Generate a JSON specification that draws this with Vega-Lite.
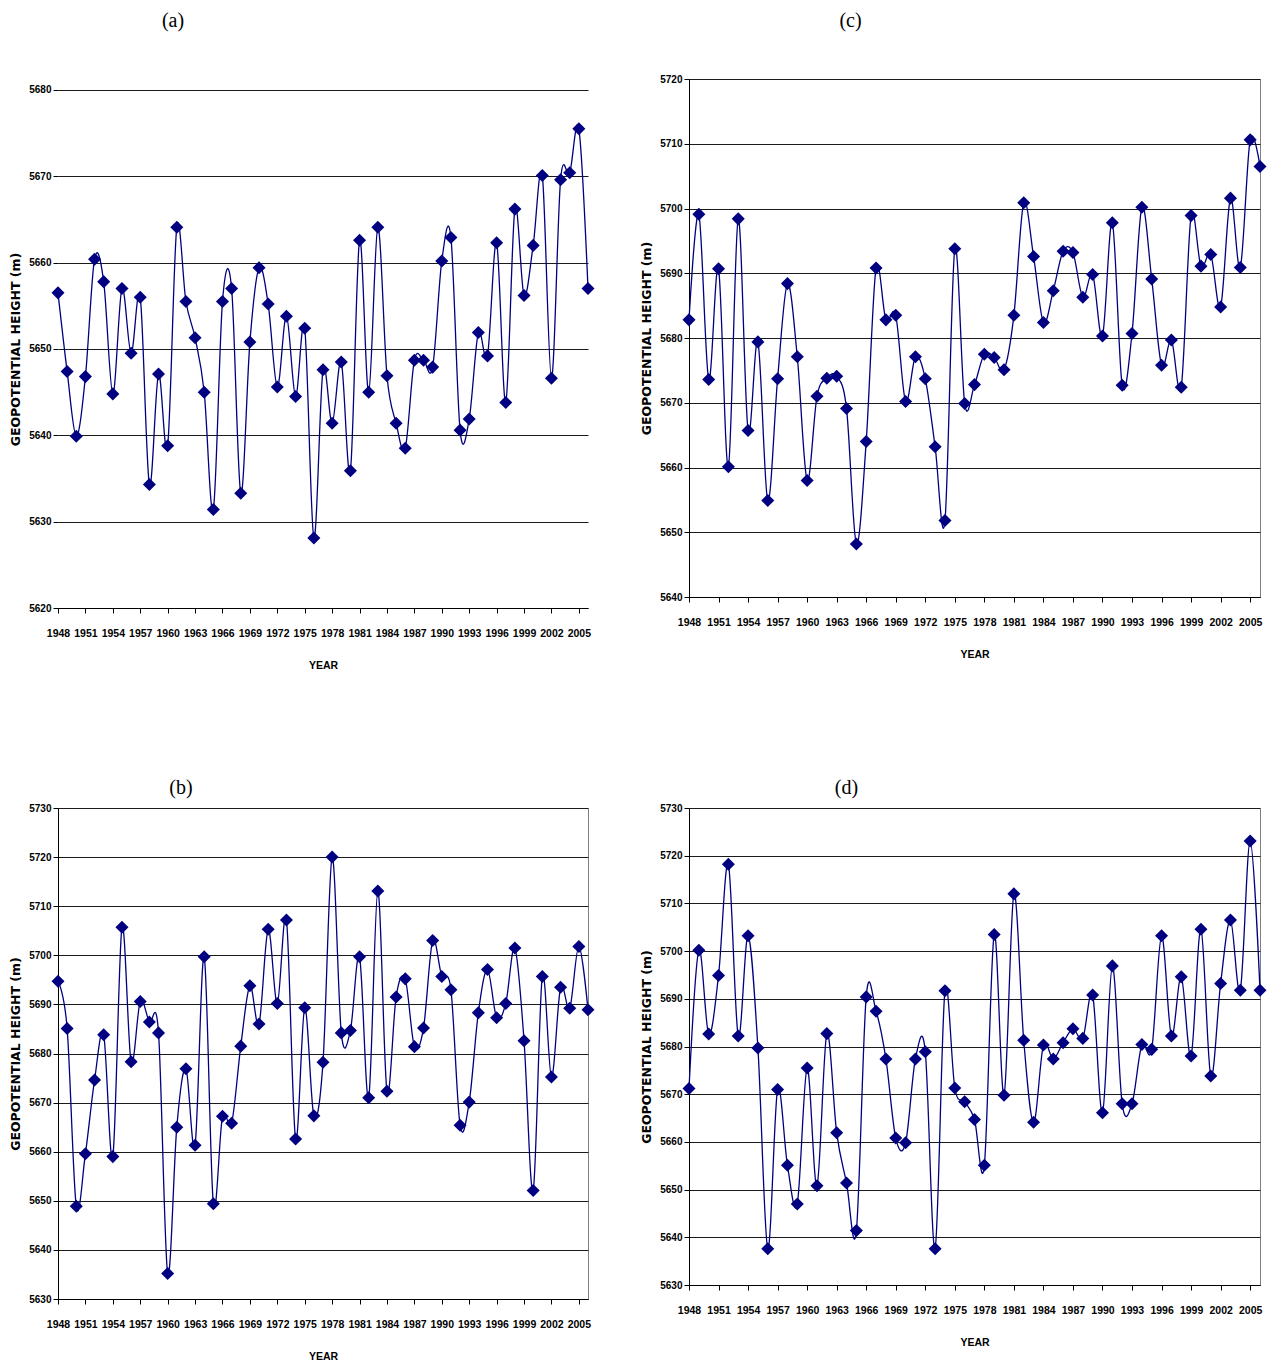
{
  "$schema": "https://vega.github.io/schema/vega-lite/v6.json",
  "background": "white",
  "padding": {"left": 8, "top": 10, "right": 5, "bottom": 5},
  "columns": 2,
  "spacing": {"row": 200, "column": 101},
  "bounds": "flush",
  "datasets": {
    "a": [
      {"year":1948,"h":5656.5},{"year":1949,"h":5647.4},{"year":1950,"h":5639.9},{"year":1951,"h":5646.8},{"year":1952,"h":5660.4},
      {"year":1953,"h":5657.8},{"year":1954,"h":5644.8},{"year":1955,"h":5657.0},{"year":1956,"h":5649.5},{"year":1957,"h":5656.0},
      {"year":1958,"h":5634.3},{"year":1959,"h":5647.1},{"year":1960,"h":5638.8},{"year":1961,"h":5664.1},{"year":1962,"h":5655.5},
      {"year":1963,"h":5651.3},{"year":1964,"h":5645.0},{"year":1965,"h":5631.4},{"year":1966,"h":5655.5},{"year":1967,"h":5657.0},
      {"year":1968,"h":5633.3},{"year":1969,"h":5650.8},{"year":1970,"h":5659.4},{"year":1971,"h":5655.2},{"year":1972,"h":5645.6},
      {"year":1973,"h":5653.8},{"year":1974,"h":5644.5},{"year":1975,"h":5652.4},{"year":1976,"h":5628.1},{"year":1977,"h":5647.6},
      {"year":1978,"h":5641.4},{"year":1979,"h":5648.5},{"year":1980,"h":5635.9},{"year":1981,"h":5662.6},{"year":1982,"h":5645.0},
      {"year":1983,"h":5664.1},{"year":1984,"h":5646.9},{"year":1985,"h":5641.4},{"year":1986,"h":5638.5},{"year":1987,"h":5648.7},
      {"year":1988,"h":5648.7},{"year":1989,"h":5647.9},{"year":1990,"h":5660.2},{"year":1991,"h":5662.9},{"year":1992,"h":5640.6},
      {"year":1993,"h":5641.9},{"year":1994,"h":5651.9},{"year":1995,"h":5649.2},{"year":1996,"h":5662.3},{"year":1997,"h":5643.8},
      {"year":1998,"h":5666.2},{"year":1999,"h":5656.2},{"year":2000,"h":5662.0},{"year":2001,"h":5670.1},{"year":2002,"h":5646.6},
      {"year":2003,"h":5669.6},{"year":2004,"h":5670.4},{"year":2005,"h":5675.5},{"year":2006,"h":5657.0}
    ],
    "b": [
      {"year":1948,"h":5694.7},{"year":1949,"h":5685.1},{"year":1950,"h":5648.9},{"year":1951,"h":5659.6},{"year":1952,"h":5674.6},
      {"year":1953,"h":5683.8},{"year":1954,"h":5659.0},{"year":1955,"h":5705.7},{"year":1956,"h":5678.3},{"year":1957,"h":5690.6},
      {"year":1958,"h":5686.4},{"year":1959,"h":5684.2},{"year":1960,"h":5635.2},{"year":1961,"h":5665.0},{"year":1962,"h":5676.9},
      {"year":1963,"h":5661.3},{"year":1964,"h":5699.7},{"year":1965,"h":5649.4},{"year":1966,"h":5667.2},{"year":1967,"h":5665.8},
      {"year":1968,"h":5681.5},{"year":1969,"h":5693.8},{"year":1970,"h":5686.0},{"year":1971,"h":5705.3},{"year":1972,"h":5690.2},
      {"year":1973,"h":5707.2},{"year":1974,"h":5662.6},{"year":1975,"h":5689.3},{"year":1976,"h":5667.3},{"year":1977,"h":5678.2},
      {"year":1978,"h":5720.0},{"year":1979,"h":5684.2},{"year":1980,"h":5684.7},{"year":1981,"h":5699.7},{"year":1982,"h":5671.0},
      {"year":1983,"h":5713.1},{"year":1984,"h":5672.3},{"year":1985,"h":5691.5},{"year":1986,"h":5695.2},{"year":1987,"h":5681.4},
      {"year":1988,"h":5685.2},{"year":1989,"h":5703.0},{"year":1990,"h":5695.7},{"year":1991,"h":5693.0},{"year":1992,"h":5665.4},
      {"year":1993,"h":5670.1},{"year":1994,"h":5688.3},{"year":1995,"h":5697.1},{"year":1996,"h":5687.3},{"year":1997,"h":5690.2},
      {"year":1998,"h":5701.5},{"year":1999,"h":5682.6},{"year":2000,"h":5652.1},{"year":2001,"h":5695.7},{"year":2002,"h":5675.2},
      {"year":2003,"h":5693.5},{"year":2004,"h":5689.2},{"year":2005,"h":5701.8},{"year":2006,"h":5688.9}
    ],
    "c": [
      {"year":1948,"h":5682.8},{"year":1949,"h":5699.1},{"year":1950,"h":5673.6},{"year":1951,"h":5690.7},{"year":1952,"h":5660.1},
      {"year":1953,"h":5698.4},{"year":1954,"h":5665.7},{"year":1955,"h":5679.4},{"year":1956,"h":5654.9},{"year":1957,"h":5673.7},
      {"year":1958,"h":5688.4},{"year":1959,"h":5677.1},{"year":1960,"h":5658.0},{"year":1961,"h":5671.0},{"year":1962,"h":5673.8},
      {"year":1963,"h":5674.1},{"year":1964,"h":5669.1},{"year":1965,"h":5648.2},{"year":1966,"h":5664.0},{"year":1967,"h":5690.8},
      {"year":1968,"h":5682.8},{"year":1969,"h":5683.5},{"year":1970,"h":5670.2},{"year":1971,"h":5677.1},{"year":1972,"h":5673.7},
      {"year":1973,"h":5663.2},{"year":1974,"h":5651.8},{"year":1975,"h":5693.8},{"year":1976,"h":5669.9},{"year":1977,"h":5672.8},
      {"year":1978,"h":5677.5},{"year":1979,"h":5677.0},{"year":1980,"h":5675.1},{"year":1981,"h":5683.5},{"year":1982,"h":5700.9},
      {"year":1983,"h":5692.6},{"year":1984,"h":5682.4},{"year":1985,"h":5687.3},{"year":1986,"h":5693.4},{"year":1987,"h":5693.2},
      {"year":1988,"h":5686.3},{"year":1989,"h":5689.8},{"year":1990,"h":5680.3},{"year":1991,"h":5697.8},{"year":1992,"h":5672.7},
      {"year":1993,"h":5680.7},{"year":1994,"h":5700.2},{"year":1995,"h":5689.1},{"year":1996,"h":5675.8},{"year":1997,"h":5679.7},
      {"year":1998,"h":5672.4},{"year":1999,"h":5698.9},{"year":2000,"h":5691.1},{"year":2001,"h":5692.9},{"year":2002,"h":5684.8},
      {"year":2003,"h":5701.6},{"year":2004,"h":5690.9},{"year":2005,"h":5710.6},{"year":2006,"h":5706.5}
    ],
    "d": [
      {"year":1948,"h":5671.2},{"year":1949,"h":5700.2},{"year":1950,"h":5682.6},{"year":1951,"h":5694.9},{"year":1952,"h":5718.2},
      {"year":1953,"h":5682.2},{"year":1954,"h":5703.2},{"year":1955,"h":5679.7},{"year":1956,"h":5637.6},{"year":1957,"h":5671.0},
      {"year":1958,"h":5655.1},{"year":1959,"h":5647.0},{"year":1960,"h":5675.5},{"year":1961,"h":5650.8},{"year":1962,"h":5682.7},
      {"year":1963,"h":5661.9},{"year":1964,"h":5651.4},{"year":1965,"h":5641.4},{"year":1966,"h":5690.4},{"year":1967,"h":5687.4},
      {"year":1968,"h":5677.4},{"year":1969,"h":5660.8},{"year":1970,"h":5659.8},{"year":1971,"h":5677.4},{"year":1972,"h":5678.9},
      {"year":1973,"h":5637.6},{"year":1974,"h":5691.7},{"year":1975,"h":5671.3},{"year":1976,"h":5668.4},{"year":1977,"h":5664.7},
      {"year":1978,"h":5655.1},{"year":1979,"h":5703.5},{"year":1980,"h":5669.8},{"year":1981,"h":5712.0},{"year":1982,"h":5681.3},
      {"year":1983,"h":5664.1},{"year":1984,"h":5680.3},{"year":1985,"h":5677.4},{"year":1986,"h":5680.8},{"year":1987,"h":5683.7},
      {"year":1988,"h":5681.7},{"year":1989,"h":5690.8},{"year":1990,"h":5666.1},{"year":1991,"h":5696.9},{"year":1992,"h":5668.0},
      {"year":1993,"h":5668.0},{"year":1994,"h":5680.4},{"year":1995,"h":5679.4},{"year":1996,"h":5703.2},{"year":1997,"h":5682.2},
      {"year":1998,"h":5694.6},{"year":1999,"h":5678.0},{"year":2000,"h":5704.6},{"year":2001,"h":5673.8},{"year":2002,"h":5693.2},
      {"year":2003,"h":5706.5},{"year":2004,"h":5691.8},{"year":2005,"h":5723.1},{"year":2006,"h":5691.8}
    ]
  },
  "concat": [
    {
      "width": 530, "height": 529,
      "view": {"stroke": null},
      "title": {"text": "(a)", "dx": -150, "offset": 48},
      "encoding": {
        "x": {"field": "year", "type": "quantitative", "scale": {"domain": [1948, 2006], "nice": false, "zero": false},
              "axis": {"values": [1948,1951,1954,1957,1960,1963,1966,1969,1972,1975,1978,1981,1984,1987,1990,1993,1996,1999,2002,2005], "format": "d", "title": "YEAR"}},
        "y": {"field": "h", "type": "quantitative", "scale": {"domain": [5620, 5681.27], "nice": false, "zero": false},
              "axis": {"values": [5620,5630,5640,5650,5660,5670,5680], "format": "d", "title": "GEOPOTENTIAL HEIGHT (m)", "domain": false, "titleY": 270}}
      },
      "layer": [
        {"data": {"values": [{}]}, "mark": {"type": "rule", "color": "#808080", "strokeWidth": 1},
         "encoding": {"x": {"datum": 2006}, "y": {"datum": 5620}, "y2": {"datum": 5680}}},
        {"data": {"values": [{}]}, "mark": {"type": "rule", "color": "#000000", "strokeWidth": 1},
         "encoding": {"x": {"datum": 1948}, "y": {"datum": 5620}, "y2": {"datum": 5680}}},
        {"data": {"name": "a"}, "mark": {"type": "line", "interpolate": "cardinal", "color": "#000080", "strokeWidth": 1.3}},
        {"data": {"name": "a"}, "mark": {"type": "point", "shape": "diamond", "filled": true, "size": 170, "color": "#000080", "opacity": 1}}
      ]
    },
    {
      "width": 571, "height": 518,
      "title": {"text": "(c)", "dx": -124, "offset": 43},
      "data": {"name": "c"},
      "encoding": {
        "x": {"field": "year", "type": "quantitative", "scale": {"domain": [1948, 2006], "nice": false, "zero": false},
              "axis": {"values": [1948,1951,1954,1957,1960,1963,1966,1969,1972,1975,1978,1981,1984,1987,1990,1993,1996,1999,2002,2005], "format": "d", "title": "YEAR"}},
        "y": {"field": "h", "type": "quantitative", "scale": {"domain": [5640, 5720], "nice": false, "zero": false},
              "axis": {"values": [5640,5650,5660,5670,5680,5690,5700,5710,5720], "format": "d", "title": "GEOPOTENTIAL HEIGHT (m)"}}
      },
      "layer": [
        {"mark": {"type": "line", "interpolate": "cardinal", "color": "#000080", "strokeWidth": 1.3}},
        {"mark": {"type": "point", "shape": "diamond", "filled": true, "size": 170, "color": "#000080", "opacity": 1}}
      ]
    },
    {
      "width": 530, "height": 491,
      "title": {"text": "(b)", "dx": -142, "offset": 5},
      "data": {"name": "b"},
      "encoding": {
        "x": {"field": "year", "type": "quantitative", "scale": {"domain": [1948, 2006], "nice": false, "zero": false},
              "axis": {"values": [1948,1951,1954,1957,1960,1963,1966,1969,1972,1975,1978,1981,1984,1987,1990,1993,1996,1999,2002,2005], "format": "d", "title": "YEAR"}},
        "y": {"field": "h", "type": "quantitative", "scale": {"domain": [5630, 5730], "nice": false, "zero": false},
              "axis": {"values": [5630,5640,5650,5660,5670,5680,5690,5700,5710,5720,5730], "format": "d", "title": "GEOPOTENTIAL HEIGHT (m)"}}
      },
      "layer": [
        {"mark": {"type": "line", "interpolate": "cardinal", "color": "#000080", "strokeWidth": 1.3}},
        {"mark": {"type": "point", "shape": "diamond", "filled": true, "size": 170, "color": "#000080", "opacity": 1}}
      ]
    },
    {
      "width": 571, "height": 477,
      "title": {"text": "(d)", "dx": -128, "offset": 5},
      "data": {"name": "d"},
      "encoding": {
        "x": {"field": "year", "type": "quantitative", "scale": {"domain": [1948, 2006], "nice": false, "zero": false},
              "axis": {"values": [1948,1951,1954,1957,1960,1963,1966,1969,1972,1975,1978,1981,1984,1987,1990,1993,1996,1999,2002,2005], "format": "d", "title": "YEAR"}},
        "y": {"field": "h", "type": "quantitative", "scale": {"domain": [5630, 5730], "nice": false, "zero": false},
              "axis": {"values": [5630,5640,5650,5660,5670,5680,5690,5700,5710,5720,5730], "format": "d", "title": "GEOPOTENTIAL HEIGHT (m)"}}
      },
      "layer": [
        {"mark": {"type": "line", "interpolate": "cardinal", "color": "#000080", "strokeWidth": 1.3}},
        {"mark": {"type": "point", "shape": "diamond", "filled": true, "size": 170, "color": "#000080", "opacity": 1}}
      ]
    }
  ],
  "config": {
    "view": {"stroke": "#808080", "strokeWidth": 1},
    "title": {"font": "Liberation Serif", "fontSize": 20, "fontWeight": "normal", "color": "#000000", "baseline": "middle", "anchor": "middle", "frame": "group"},
    "axis": {"labelFont": "Liberation Sans", "labelFontWeight": "bold", "labelColor": "#000000",
             "tickColor": "#000000", "domainColor": "#000000", "gridColor": "#1a1a1a", "gridWidth": 1, "tickSize": 5,
             "titleColor": "#000000", "titleFontWeight": "bold"},
    "axisX": {"grid": false, "labelFontSize": 10.5, "labelPadding": 15, "labelAngle": 0, "labelFlush": false, "labelOverlap": false,
              "titleFont": "Liberation Sans", "titleFontSize": 10.5, "titlePadding": 22},
    "axisY": {"grid": true, "labelFontSize": 10, "labelPadding": 2, "titleFont": "DejaVu Sans", "titleFontSize": 12.5,
              "titleX": -43, "titleBaseline": "middle", "titleAngle": -90}
  }
}
